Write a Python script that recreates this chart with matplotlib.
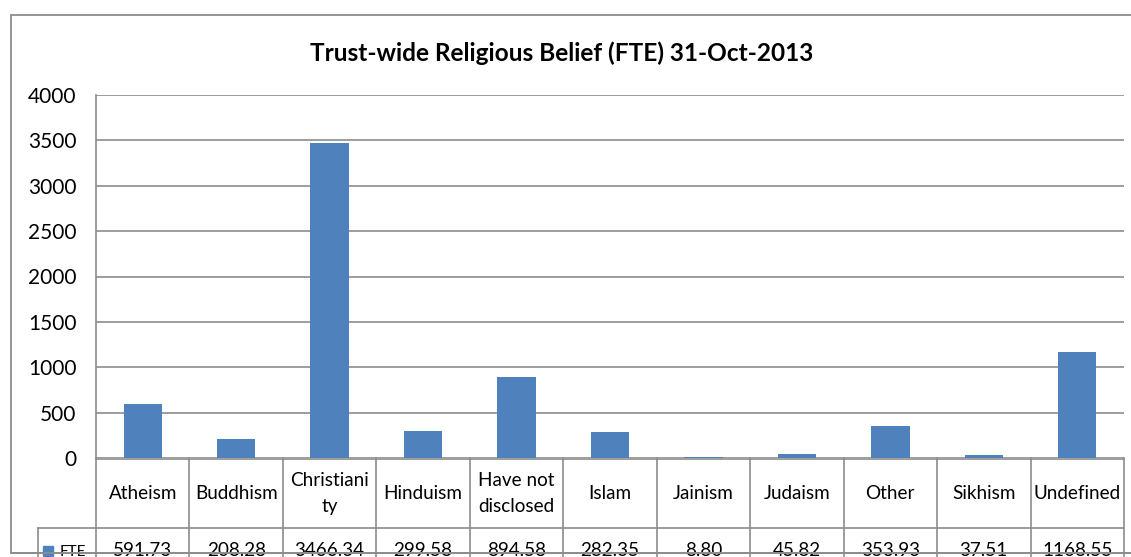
import matplotlib
matplotlib.use("Agg")
import matplotlib.pyplot as plt
from matplotlib.patches import Rectangle

plt.rcParams['font.family'] = ['Lato', 'DejaVu Sans']

# FTE by religious belief
categories = ["Atheism", "Buddhism", "Christiani\nty", "Hinduism", "Have not\ndisclosed",
              "Islam", "Jainism", "Judaism", "Other", "Sikhism", "Undefined"]
fte = [591.73, 208.28, 3466.34, 299.58, 894.58, 282.35, 8.80, 45.82, 353.93, 37.51, 1168.55]
yticks = [0, 500, 1000, 1500, 2000, 2500, 3000, 3500, 4000]

W, H = 1131, 557
BLUE = "#4F81BD"
GRID = "#8C8C8C"

def fx(px):
    return px / W

def fy(py):
    return 1 - py / H

fig = plt.figure(figsize=(W / 100, H / 100), dpi=100)

# outer chart frame
fig.add_artist(Rectangle((fx(11), fy(553)), fx(1140 - 11), (553 - 15) / H,
                         transform=fig.transFigure, fill=False,
                         edgecolor=GRID, linewidth=1.3))

fig.text(fx(562), fy(53), "Trust-wide Religious Belief (FTE) 31-Oct-2013",
         ha="center", va="center", fontsize=17.6, fontweight="bold")

# plot area
left, right, top, zero = 96, 1124, 95, 458
ax = fig.add_axes([fx(left), fy(zero), fx(right - left), (zero - top) / H])
x = list(range(len(fte)))
ax.bar(x, fte, width=0.41, color=BLUE, zorder=3)
ax.set_xlim(-0.5, len(fte) - 0.5)
ax.set_ylim(0, 4000)
ax.set_yticks(yticks)
ax.tick_params(axis="y", length=0, pad=14, labelsize=15)
ax.tick_params(axis="x", length=0, labelbottom=False)
ax.yaxis.grid(True, color=GRID, linewidth=1.2)
ax.set_axisbelow(True)
for s in ["top", "right", "bottom"]:
    ax.spines[s].set_visible(False)
ax.spines["left"].set_color(GRID)
ax.spines["left"].set_linewidth(1.2)

# data table under the axis
tab = fig.add_axes([fx(left), 0, fx(right - left), (H - zero) / H], sharex=ax)
tab.set_ylim(H - zero, 0)
tab.axis("off")
n = len(fte)
row_sep = 528 - zero
cell = (right - left) / n
key_left = -0.5 - (left - 38) / cell
for k in range(n + 1):
    tab.plot([k - 0.5, k - 0.5], [0, H - zero], color=GRID, linewidth=1.2, clip_on=False)
tab.plot([-0.5, n - 0.5], [1, 1], color=GRID, linewidth=1.2, clip_on=False)
tab.plot([key_left, n - 0.5], [row_sep, row_sep], color=GRID, linewidth=1.2, clip_on=False)
tab.plot([key_left, key_left], [row_sep, H - zero], color=GRID, linewidth=1.2, clip_on=False)
for k, (c, v) in enumerate(zip(categories, fte)):
    tab.text(k, (row_sep + 1) / 2, c, ha="center", va="center", fontsize=13.6,
             linespacing=1.69)
    tab.text(k, 93, f"{v:.2f}", ha="center", va="center", fontsize=13.6)
# legend key in the table
key_x = key_left + 5 / cell
tab.add_patch(Rectangle((key_x, 88), 10 / cell, 10, color=BLUE, clip_on=False))
tab.text(key_x + 17 / cell, 94, "FTE", ha="left", va="center", fontsize=11, clip_on=False)

fig.add_artist(plt.Line2D([fx(11), 1], [fy(553), fy(553)], transform=fig.transFigure,
                          color=GRID, linewidth=1.3))

fig.savefig("out.png", dpi=100)
